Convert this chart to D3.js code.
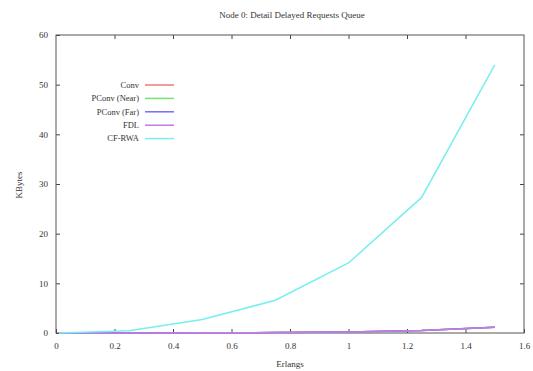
<!DOCTYPE html>
<html>
<head>
<meta charset="utf-8">
<script src="https://cdn.jsdelivr.net/npm/d3@7.8.5/dist/d3.min.js"></script>
<style>
  body { margin: 0; background: #fff; }
  text { font-family: "Liberation Serif", "Times New Roman", serif; fill: #333; }
</style>
</head>
<body>
<div id="chart"></div>
<script>
// Values
const erlangs = [0.01, 0.25, 0.5, 0.75, 1.0, 1.25, 1.5];
const conv = [0, 0.01, 0.03, 0.08, 0.2, 0.5, 1.15];
const pconvNear = [0, 0.01, 0.03, 0.08, 0.2, 0.5, 1.15];
const pconvFar = [0, 0.01, 0.03, 0.08, 0.2, 0.5, 1.15];
const fdl = [0, 0.01, 0.03, 0.08, 0.2, 0.5, 1.15];
const cfRwa = [0.02, 0.45, 2.7, 6.6, 14.1, 27.3, 54];
const seriesNames = ['Conv', 'PConv (Near)', 'PConv (Far)', 'FDL', 'CF-RWA'];
const seriesValues = [conv, pconvNear, pconvFar, fdl, cfRwa];
const colors = ['#f07878', '#78e078', '#7a6cf0', '#c878e8', '#78eeee'];
const xTicks = [0, 0.2, 0.4, 0.6, 0.8, 1, 1.2, 1.4, 1.6];
const yTicks = [0, 10, 20, 30, 40, 50, 60];

const width = 533, height = 371;
const margin = { top: 35, right: 9, bottom: 38, left: 56 };

const svg = d3.select('#chart').append('svg')
    .attr('width', width)
    .attr('height', height);

const x = d3.scaleLinear().domain([0, 1.6]).range([margin.left, width - margin.right]);
const y = d3.scaleLinear().domain([0, 60]).range([height - margin.bottom, margin.top]);

// Title and axis labels
svg.append('text')
    .attr('x', 292).attr('y', 18)
    .attr('text-anchor', 'middle')
    .style('font-size', '9px')
    .text('Node 0: Detail Delayed Requests Queue');

svg.append('text')
    .attr('x', 290).attr('y', 367)
    .attr('text-anchor', 'middle')
    .style('font-size', '9px')
    .text('Erlangs');

svg.append('text')
    .attr('transform', 'translate(22,185) rotate(-90)')
    .attr('text-anchor', 'middle')
    .style('font-size', '9px')
    .text('KBytes');

// Axes (gnuplot style: inward ticks, mirrored)
const tickLen = 4;
svg.append('g')
    .attr('transform', `translate(0,${y(0)})`)
    .call(d3.axisBottom(x).tickValues(xTicks).tickSize(-tickLen).tickPadding(10).tickFormat(d3.format('')))
    .call(g => g.select('.domain').remove());
svg.append('g')
    .attr('transform', `translate(0,${y(60)})`)
    .call(d3.axisTop(x).tickValues(xTicks.slice(1, -1)).tickSize(-tickLen).tickFormat(''))
    .call(g => g.select('.domain').remove());
svg.append('g')
    .attr('transform', `translate(${x(0)},0)`)
    .call(d3.axisLeft(y).tickValues(yTicks).tickSize(-tickLen).tickPadding(8))
    .call(g => g.select('.domain').remove());
svg.append('g')
    .attr('transform', `translate(${x(1.6)},0)`)
    .call(d3.axisRight(y).tickValues(yTicks.slice(1, -1)).tickSize(-tickLen).tickFormat(''))
    .call(g => g.select('.domain').remove());

svg.selectAll('.tick line').attr('stroke', '#444');
svg.selectAll('.tick text')
    .style('font-family', '"Liberation Serif", serif')
    .style('font-size', '9px')
    .attr('fill', '#333');

svg.append('rect')
    .attr('x', x(0)).attr('y', y(60))
    .attr('width', x(1.6) - x(0)).attr('height', y(0) - y(60))
    .attr('fill', 'none')
    .attr('stroke', '#555')
    .attr('stroke-width', 1);

// Series lines
const line = d3.line()
    .x((d, i) => x(erlangs[i]))
    .y(d => y(d));

svg.selectAll('.series')
    .data(seriesValues)
    .enter()
    .append('path')
    .attr('class', 'series')
    .attr('d', d => line(d))
    .attr('fill', 'none')
    .attr('stroke', (d, i) => colors[i])
    .attr('stroke-width', 1.5);

// Legend
const legend = svg.append('g');
seriesNames.forEach((name, i) => {
    const ly = 85 + i * 13.4;
    legend.append('text')
        .attr('x', 139).attr('y', ly)
        .attr('dy', '0.32em')
        .attr('text-anchor', 'end')
        .style('font-size', '8.5px')
        .text(name);
    legend.append('line')
        .attr('x1', 145).attr('x2', 174)
        .attr('y1', ly).attr('y2', ly)
        .attr('stroke', colors[i])
        .attr('stroke-width', 1.5);
});
</script>
</body>
</html>
